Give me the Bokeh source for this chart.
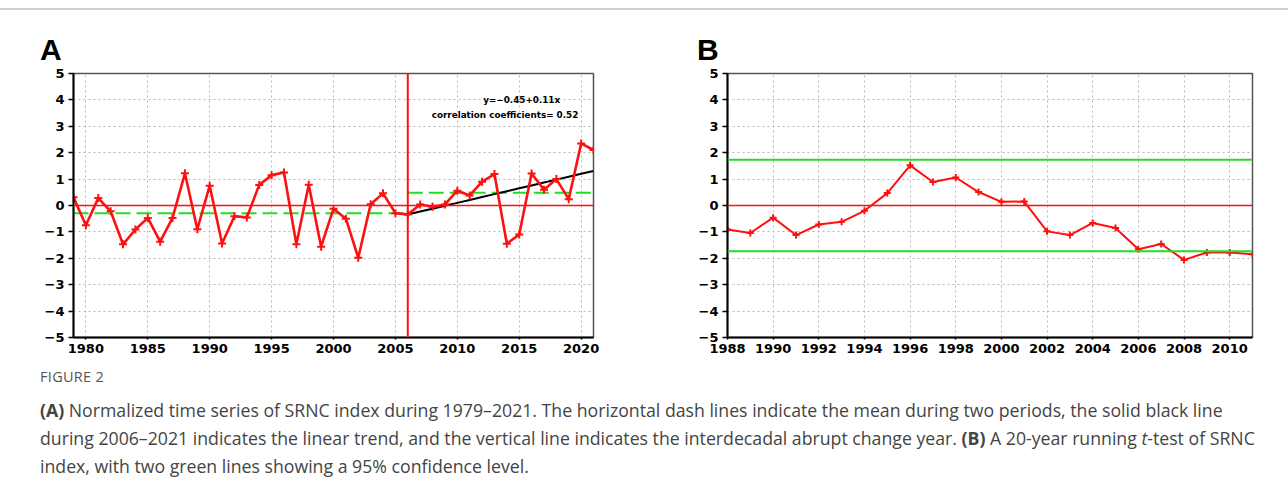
from bokeh.plotting import figure
from bokeh.models import Range1d, FixedTicker, Span, Label, Div
from bokeh.layouts import column, row
from bokeh.embed import file_html
from bokeh.resources import INLINE

# ---------------- data ----------------
years_a = list(range(1979, 2022))
srnc_index = [0.31, -0.75, 0.28, -0.22, -1.47, -0.91, -0.47, -1.37, -0.47, 1.22,
              -0.90, 0.75, -1.44, -0.41, -0.45, 0.78, 1.15, 1.25, -1.47, 0.79,
              -1.56, -0.12, -0.50, -1.98, 0.05, 0.46, -0.29, -0.34, 0.04, -0.05,
              0.04, 0.56, 0.38, 0.90, 1.19, -1.45, -1.10, 1.21, 0.60, 1.00,
              0.24, 2.35, 2.10]
change_year = 2006
period1 = [1979, 2006]
mean1 = -0.29
period2 = [2006, 2021]
mean2 = 0.48
trend_a0 = -0.45
trend_a1 = 0.11
corr_coef = 0.52

years_b = list(range(1988, 2012))
t_stat = [-0.91, -1.04, -0.46, -1.12, -0.72, -0.62, -0.20, 0.47, 1.52, 0.89,
          1.06, 0.51, 0.14, 0.15, -0.98, -1.12, -0.66, -0.85, -1.66, -1.46,
          -2.06, -1.78, -1.78, -1.85]
conf_level = 1.73

y_ticks = [-5, -4, -3, -2, -1, 0, 1, 2, 3, 4, 5]
x_ticks_a = [1980, 1985, 1990, 1995, 2000, 2005, 2010, 2015, 2020]
x_ticks_b = list(range(1988, 2012, 2))

RED = "#ff1010"
GREEN = "#22dd22"
TICK_FONT = "DejaVu Sans"


def minus_labels(ticks):
    return {t: (("\u2212" + str(abs(t))) if t < 0 else str(t)) for t in ticks}


def style(p, xticks):
    p.xaxis.ticker = FixedTicker(ticks=xticks)
    p.yaxis.ticker = FixedTicker(ticks=y_ticks)
    p.yaxis.major_label_overrides = minus_labels(y_ticks)
    for ax in (p.xaxis[0], p.yaxis[0]):
        ax.axis_line_color = "black"
        ax.axis_line_width = 2
        ax.major_label_text_font = TICK_FONT
        ax.major_label_text_font_style = "bold"
        ax.major_label_text_font_size = "13px"
        ax.major_label_text_color = "black"
        ax.minor_tick_line_color = None
        ax.major_tick_line_color = "black"
        ax.major_tick_line_width = 1.5
        ax.major_tick_in = 0
    p.xaxis.major_tick_out = 2
    p.xaxis.major_label_standoff = 4
    p.yaxis.major_tick_out = 5
    p.yaxis.major_label_standoff = 4
    for g in (p.xgrid[0], p.ygrid[0]):
        g.grid_line_color = "#b8b8b8"
        g.grid_line_dash = "2 3"
        g.grid_line_width = 1
    p.outline_line_color = "#555555"
    p.outline_line_width = 1.5
    p.background_fill_color = "white"
    p.border_fill_color = "white"


# ---------------- panel A ----------------
pA = figure(width=640, height=299, output_backend="svg", toolbar_location=None,
            x_range=Range1d(1979, 2021), y_range=Range1d(-5, 5),
            min_border_left=73, min_border_right=47, min_border_top=11,
            min_border_bottom=21)
style(pA, x_ticks_a)

pA.add_layout(Span(location=0, dimension="width", line_color=RED, line_width=1.6))
pA.add_layout(Span(location=change_year, dimension="height", line_color=RED, line_width=2))
pA.line(period1, [mean1, mean1], line_color=GREEN, line_width=2, line_dash="15 6")
pA.line(period2, [mean2, mean2], line_color=GREEN, line_width=2, line_dash="15 6")

trend_years = [y for y in years_a if y >= change_year]
trend_vals = [trend_a0 + trend_a1 * (i + 1) for i in range(len(trend_years))]
pA.line(trend_years, trend_vals, line_color="black", line_width=2)

pA.line(years_a, srnc_index, line_color=RED, line_width=2.6)
pA.scatter(years_a, srnc_index, marker="cross", size=8, line_color=RED, line_width=2)

pA.add_layout(Label(x=2015.2, y=4.0, text="y=\u22120.45+0.11x", text_align="center",
                    text_baseline="middle", text_font=TICK_FONT, text_font_style="bold",
                    text_font_size="8.8px", text_color="black"))
pA.add_layout(Label(x=2014.1, y=3.43, text="correlation  coefficients=  %.2f" % corr_coef,
                    text_align="center", text_baseline="middle", text_font=TICK_FONT,
                    text_font_style="bold", text_font_size="8.8px", text_color="black"))

# ---------------- panel B ----------------
pB = figure(width=648, height=299, output_backend="svg", toolbar_location=None,
            x_range=Range1d(1988, 2011), y_range=Range1d(-5, 5),
            min_border_left=87, min_border_right=36, min_border_top=8,
            min_border_bottom=24)
style(pB, x_ticks_b)

pB.add_layout(Span(location=0, dimension="width", line_color=RED, line_width=1.6))
pB.add_layout(Span(location=conf_level, dimension="width", line_color=GREEN, line_width=2))
pB.add_layout(Span(location=-conf_level, dimension="width", line_color=GREEN, line_width=2))
pB.line(years_b, t_stat, line_color=RED, line_width=2)
pB.scatter(years_b, t_stat, marker="cross", size=7, line_color=RED, line_width=2)

# ---------------- texts / layout ----------------
top_line = Div(text='<div style="height:2px;width:1288px;background:#d0d0d0;margin-top:-4px"></div>',
               width=1288, height=6, margin=0)

letter_style = ("font-family:'Liberation Sans';font-weight:bold;font-size:30px;"
                "line-height:30px;color:black;padding-top:29px;padding-left:%dpx")
div_a = Div(text='<div style="%s">A</div>' % (letter_style % 40), width=640, height=56, margin=0)
div_b = Div(text='<div style="%s">B</div>' % (letter_style % 57), width=648, height=56, margin=0)

caption_html = (
    '<div style="font-family:\'Open Sans\';padding-left:40px;padding-top:6px;white-space:nowrap">'
    '<div style="font-size:14.5px;line-height:20px;color:#555555;letter-spacing:0.3px">FIGURE 2</div>'
    '<div style="margin-top:9px;font-size:17.7px;line-height:28px;color:#444444">'
    '<b>(A)</b> Normalized time series of SRNC index during 1979\u20132021. The horizontal dash lines indicate the mean during two periods, the solid black line<br>'
    'during 2006\u20132021 indicates the linear trend, and the vertical line indicates the interdecadal abrupt change year. <b>(B)</b> A 20-year running <i>t</i>-test of SRNC<br>'
    'index, with two green lines showing a 95% confidence level.'
    '</div></div>'
)
caption = Div(text=caption_html, width=1288, height=139, margin=0)

layout = column(top_line, row(div_a, div_b, spacing=0), row(pA, pB, spacing=0), caption, spacing=0)

with open("out.html", "w") as f:
    f.write(file_html(layout, INLINE))
